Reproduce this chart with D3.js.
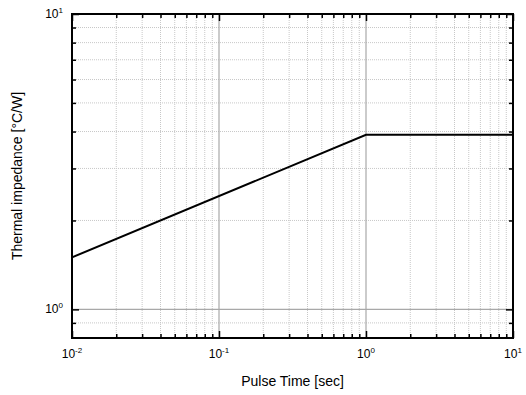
<!DOCTYPE html>
<html>
<head>
<meta charset="utf-8">
<script src="https://cdn.jsdelivr.net/npm/d3@7"></script>
<style>
  body { margin: 0; background: #fff; }
  text { font-family: "Liberation Sans", Arial, sans-serif; fill: #000; }
</style>
</head>
<body>
<div id="chart"></div>
<script>
// pulse time (s) and thermal impedance (C/W)
var pulseTime = [0.01, 1, 10];
var impedance = [1.5, 3.9, 3.9];

var xDomain = [0.01, 10];
var yDomain = [0.8, 10];
var xMajor = [-2, -1, 0, 1];   // exponents
var yMajor = [0, 1];

var width = 526, height = 395;
var margin = {top: 14, right: 13, bottom: 57, left: 72};
var w = width - margin.left - margin.right;
var h = height - margin.top - margin.bottom;

var svg = d3.select('#chart')
    .append('svg')
    .attr('width', width)
    .attr('height', height)
    .append('g')
    .attr('transform', 'translate(' + margin.left + ',' + margin.top + ')');

var x = d3.scaleLog().domain(xDomain).range([0, w]);
var y = d3.scaleLog().domain(yDomain).range([h, 0]);

// minor ticks (2..9 of each decade)
function minors(domain) {
    var out = [];
    for (var e = -3; e <= 2; e++) {
        for (var k = 2; k <= 9; k++) {
            var v = k * Math.pow(10, e);
            if (v > domain[0] * 1.0001 && v < domain[1] * 0.9999) out.push(v);
        }
    }
    return out;
}
var xMinor = minors(xDomain);
var yMinor = minors(yDomain);
if (yDomain[0] < 0.9) yMinor.unshift(0.9);
yMinor = Array.from(new Set(yMinor)).filter(function(v) { return v > yDomain[0] && v < yDomain[1]; });

// dotted minor grid
svg.append('g').selectAll('line')
    .data(xMinor)
    .enter().append('line')
    .attr('x1', d => x(d)).attr('x2', d => x(d))
    .attr('y1', 0).attr('y2', h)
    .attr('stroke', '#c8c8c8').attr('stroke-dasharray', '1,1');
svg.append('g').selectAll('line')
    .data(yMinor)
    .enter().append('line')
    .attr('y1', d => y(d)).attr('y2', d => y(d))
    .attr('x1', 0).attr('x2', w)
    .attr('stroke', '#c8c8c8').attr('stroke-dasharray', '1,1');

// major grid (solid gray)
svg.append('g').selectAll('line')
    .data(xMajor.map(e => Math.pow(10, e)).filter(v => v > xDomain[0] && v < xDomain[1]))
    .enter().append('line')
    .attr('x1', d => x(d)).attr('x2', d => x(d))
    .attr('y1', 0).attr('y2', h)
    .attr('stroke', '#a8a8a8').attr('stroke-width', 1.2);
svg.append('g').selectAll('line')
    .data(yMajor.map(e => Math.pow(10, e)).filter(v => v > yDomain[0] && v < yDomain[1]))
    .enter().append('line')
    .attr('y1', d => y(d)).attr('y2', d => y(d))
    .attr('x1', 0).attr('x2', w)
    .attr('stroke', '#a8a8a8').attr('stroke-width', 1.2);

// data line
var line = d3.line()
    .x(d => x(d[0]))
    .y(d => y(d[1]));
svg.append('path')
    .datum(d3.zip(pulseTime, impedance))
    .attr('fill', 'none')
    .attr('stroke', '#000')
    .attr('stroke-width', 2)
    .attr('d', line);

// inward ticks on all four sides
var xMajVals = xMajor.map(e => Math.pow(10, e));
var yMajVals = yMajor.map(e => Math.pow(10, e));
function tickAxis(axis, vals, len) {
    return axis.tickValues(vals).tickSize(len).tickFormat('');
}
var axes = svg.append('g');
axes.append('g').attr('transform', 'translate(0,' + h + ')')
    .call(tickAxis(d3.axisBottom(x), xMinor, -4));
axes.append('g').attr('transform', 'translate(0,' + h + ')')
    .call(tickAxis(d3.axisBottom(x), xMajVals, -7));
axes.append('g')
    .call(tickAxis(d3.axisTop(x), xMinor, -4));
axes.append('g')
    .call(tickAxis(d3.axisTop(x), xMajVals, -7));
axes.append('g')
    .call(tickAxis(d3.axisLeft(y), yMinor, -4));
axes.append('g')
    .call(tickAxis(d3.axisLeft(y), yMajVals, -7));
axes.append('g').attr('transform', 'translate(' + w + ',0)')
    .call(tickAxis(d3.axisRight(y), yMinor, -4));
axes.append('g').attr('transform', 'translate(' + w + ',0)')
    .call(tickAxis(d3.axisRight(y), yMajVals, -7));
axes.selectAll('.domain').remove();
axes.selectAll('line').attr('stroke', '#000').attr('stroke-width', 1.5);

// frame
svg.append('rect')
    .attr('width', w).attr('height', h)
    .attr('fill', 'none')
    .attr('stroke', '#000')
    .attr('stroke-width', 2);

// tick labels 10^n
svg.append('g').selectAll('text')
    .data(xMajor)
    .enter().append('text')
    .attr('x', d => x(Math.pow(10, d)))
    .attr('y', h + 20)
    .attr('text-anchor', 'middle')
    .style('font-size', '12px')
    .each(function(d) {
        var t = d3.select(this);
        t.append('tspan').text('10');
        t.append('tspan').attr('dy', -5).style('font-size', '8px').text(d);
    });
svg.append('g').selectAll('text')
    .data(yMajor)
    .enter().append('text')
    .attr('x', -9)
    .attr('y', d => y(Math.pow(10, d)) + 4)
    .attr('text-anchor', 'end')
    .style('font-size', '12px')
    .each(function(d) {
        var t = d3.select(this);
        t.append('tspan').text('10');
        t.append('tspan').attr('dy', -5).style('font-size', '8px').text(d);
    });

// axis titles
svg.append('text')
    .attr('x', w / 2)
    .attr('y', h + 48)
    .attr('text-anchor', 'middle')
    .style('font-size', '14px')
    .text('Pulse Time [sec]');
svg.append('text')
    .attr('transform', 'translate(' + (-50) + ',' + (h / 2) + ') rotate(-90)')
    .attr('text-anchor', 'middle')
    .style('font-size', '14px')
    .text('Thermal impedance [°C/W]');
</script>
</body>
</html>
